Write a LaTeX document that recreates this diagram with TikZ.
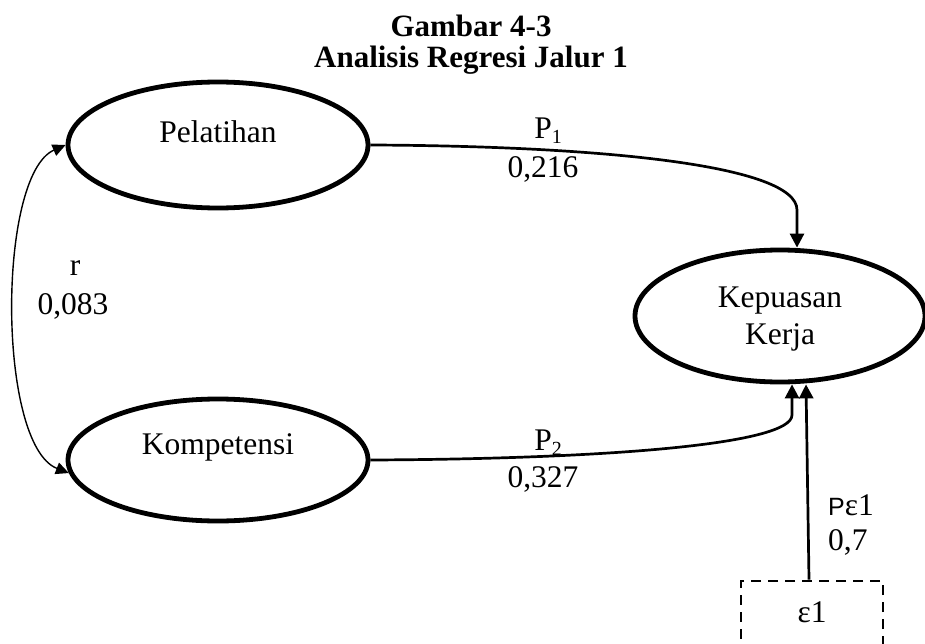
\documentclass[tikz,border=0pt]{standalone}
\usepackage{fontspec}
\setmainfont{Liberation Serif}
\newfontfamily\pfont{Liberation Sans}
\usetikzlibrary{shapes.geometric,arrows.meta}
\tikzset{
  latent/.style={ellipse, draw, line width=4.8pt, inner sep=0pt},
  txt/.style={inner sep=0pt, font=\fontsize{31.5}{37}\selectfont, align=center},
  ttl/.style={inner sep=0pt, font=\bfseries\fontsize{31}{36}\selectfont},
  path/.style={line width=2.7pt, -{Triangle[length=14pt,width=14pt]}},
  corr/.style={line width=1.4pt, {Triangle[length=13pt,width=12pt]}-{Triangle[length=13pt,width=12pt]}},
  errbox/.style={draw, line width=2.8pt, dash pattern=on 10pt off 7pt, minimum width=142pt, minimum height=110pt, inner sep=0pt}
}
\newcommand{\subnum}[1]{\raisebox{-5pt}{\fontsize{20}{20}\selectfont #1}}
\begin{document}
\begin{tikzpicture}[x=1pt,y=-1pt]
\useasboundingbox (0,0) rectangle (925,644);
% title
\node[ttl] (t1) at (471,26) {Gambar 4-3};
\node[ttl] (t2) at (471,60) {Analisis Regresi Jalur 1};
% latent variables
\node[latent, minimum width=300pt, minimum height=126pt] (pel) at (218,145) {};
\node[txt] (peltxt) at ([yshift=13pt]pel.center) {Pelatihan};
\node[latent, minimum width=300pt, minimum height=122pt] (komp) at (218,460) {};
\node[txt] (komptxt) at ([yshift=13pt]komp.center) {Kompetensi};
\node[latent, minimum width=290pt, minimum height=132pt] (kep) at (780,316) {};
\node[txt] (keptxt) at (780,319) {Kepuasan\\[0pt]Kerja};
% error box
\node[errbox] (eps) at (812,636) {};
\node[txt] (epstxt) at (812,612) {ε1};
% paths
\draw[path] (pel.east) .. controls (600,146) and (797,165) .. (797,210) -- ([xshift=17pt]kep.north);
\draw[path] (komp.east) .. controls (600,459) and (792,445) .. (792,415) -- ([xshift=12pt]kep.south);
\draw[path] ([xshift=-3pt]eps.north) -- ([xshift=26pt]kep.south);
\draw[corr] (pel.west) .. controls (-3,175) and (-3,445) .. (komp.185);
% labels
\node[txt] (p1) at (548,131) {P\subnum{1}};
\node[txt] (p1v) at (543,169) {0,216};
\node[txt] (p2) at (548,443) {P\subnum{2}};
\node[txt] (p2v) at (543,479) {0,327};
\node[txt] (r) at (75,268) {r};
\node[txt] (rv) at (73,306) {0,083};
\node[txt, anchor=west] (pe) at (828,505) {{\pfont\fontsize{25}{25}\selectfont P}ε1};
\node[txt, anchor=west] (pev) at (828,542) {0,7};
\end{tikzpicture}
\end{document}
